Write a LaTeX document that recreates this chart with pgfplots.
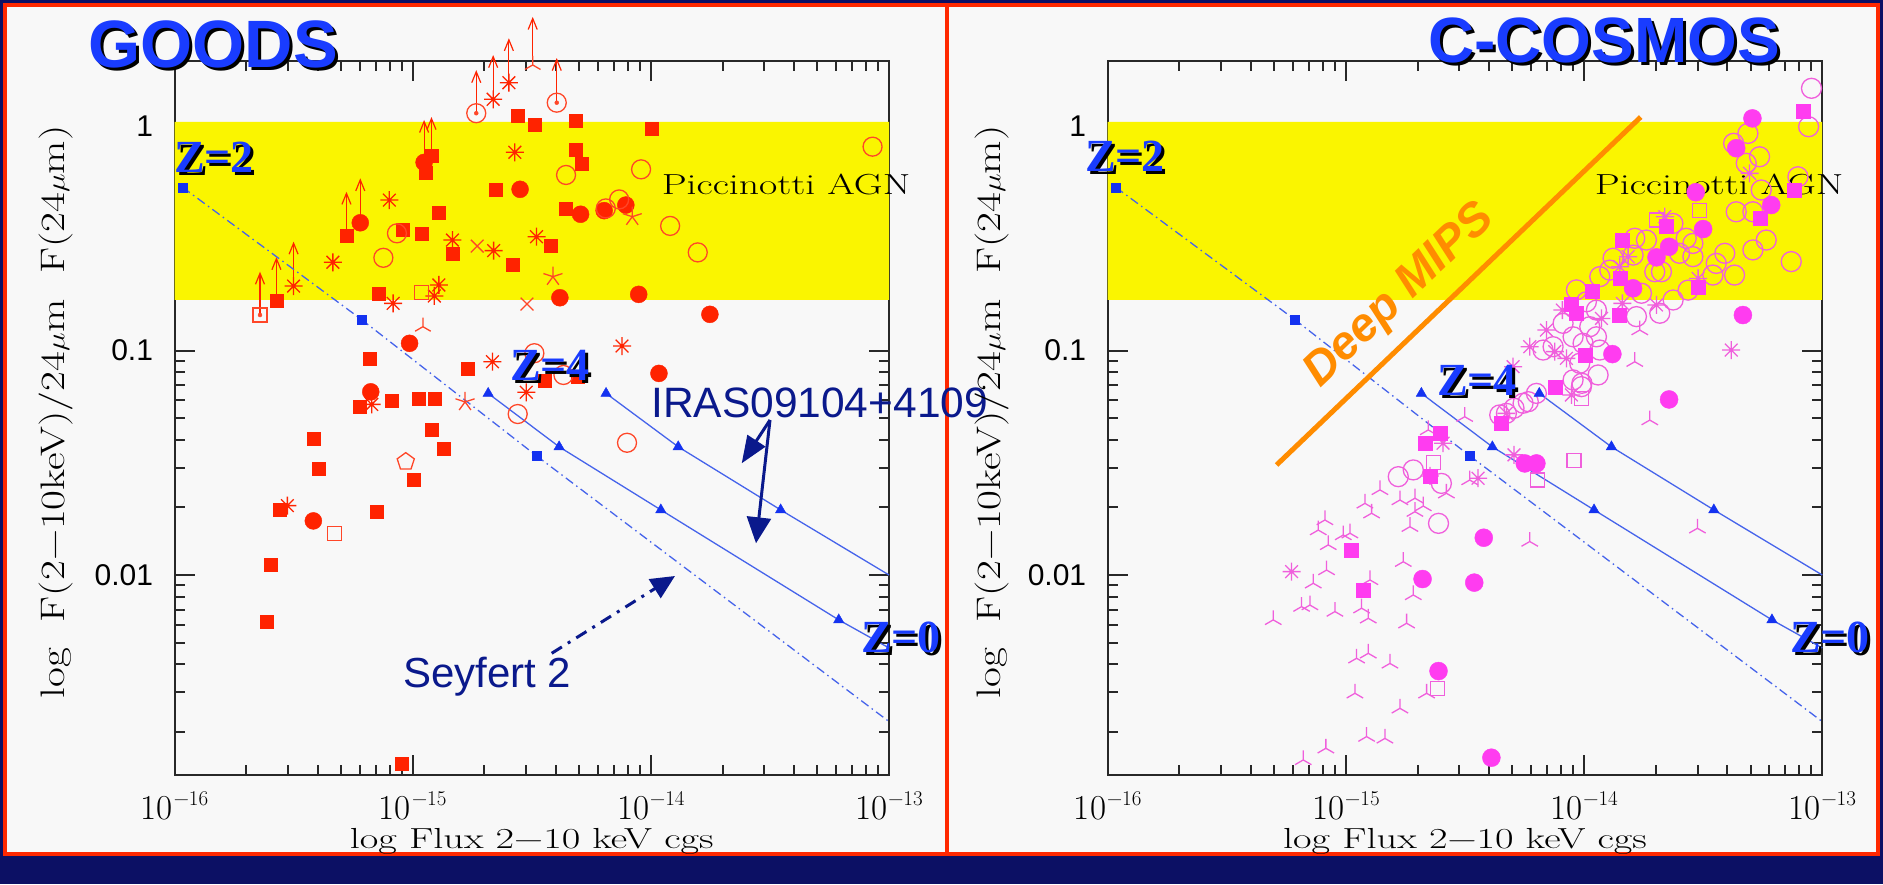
\documentclass[border=0pt]{standalone}
\usepackage{fontspec}
\usepackage{graphicx}
\usepackage{pgfplots}
\pgfplotsset{compat=1.18}
\usetikzlibrary{arrows.meta,plotmarks}
\newfontfamily\arialf{Liberation Sans}
\newfontfamily\timesf{Liberation Serif}

\definecolor{navybg}{RGB}{12,16,100}
\definecolor{framered}{RGB}{255,40,0}
\definecolor{panelbg}{RGB}{248,248,248}
\definecolor{band}{RGB}{250,245,0}
\definecolor{pred}{RGB}{255,35,0}
\definecolor{predl}{RGB}{255,70,40}
\definecolor{pmag}{RGB}{255,60,240}
\definecolor{pmagl}{RGB}{240,95,220}
\definecolor{mblue}{RGB}{70,100,235}
\definecolor{mkblue}{RGB}{20,50,240}
\definecolor{zblue}{RGB}{25,60,255}
\definecolor{navytext}{RGB}{10,25,140}
\definecolor{dmips}{RGB}{255,140,0}
\definecolor{axisgray}{RGB}{40,40,40}

\pgfdeclareplotmark{tri}{%
  \pgfpathmoveto{\pgfqpoint{0pt}{0pt}}\pgfpathlineto{\pgfqpoint{0pt}{\pgfplotmarksize}}%
  \pgfpathmoveto{\pgfqpoint{0pt}{0pt}}\pgfpathlineto{\pgfqpoint{-0.866\pgfplotmarksize}{-0.5\pgfplotmarksize}}%
  \pgfpathmoveto{\pgfqpoint{0pt}{0pt}}\pgfpathlineto{\pgfqpoint{0.866\pgfplotmarksize}{-0.5\pgfplotmarksize}}%
  \pgfusepathqstroke}
\pgfdeclareplotmark{ast8}{%
  \pgfpathmoveto{\pgfqpoint{-\pgfplotmarksize}{0pt}}\pgfpathlineto{\pgfqpoint{\pgfplotmarksize}{0pt}}%
  \pgfpathmoveto{\pgfqpoint{0pt}{-\pgfplotmarksize}}\pgfpathlineto{\pgfqpoint{0pt}{\pgfplotmarksize}}%
  \pgfpathmoveto{\pgfqpoint{-0.707\pgfplotmarksize}{-0.707\pgfplotmarksize}}\pgfpathlineto{\pgfqpoint{0.707\pgfplotmarksize}{0.707\pgfplotmarksize}}%
  \pgfpathmoveto{\pgfqpoint{-0.707\pgfplotmarksize}{0.707\pgfplotmarksize}}\pgfpathlineto{\pgfqpoint{0.707\pgfplotmarksize}{-0.707\pgfplotmarksize}}%
  \pgfusepathqstroke}

\newcommand{\tl}[1]{10\kern1pt\raisebox{14pt}{\fontsize{21}{21}\selectfont −#1}}

\pgfplotsset{
  panel/.style={
    anchor=south west, scale only axis, width=714.5pt, height=714.3pt,
    xmin=-16, xmax=-13, ymin=-2.891, ymax=0.291,
    xtick={-16,-15,-14,-13},
    xticklabels={\tl{16},\tl{15},\tl{14},\tl{13}},
    ytick={-2,-1,0}, yticklabels={0.01,0.1,1},
    minor xtick={-15.699,-15.523,-15.398,-15.301,-15.222,-15.155,-15.097,-15.046,
                 -14.699,-14.523,-14.398,-14.301,-14.222,-14.155,-14.097,-14.046,
                 -13.699,-13.523,-13.398,-13.301,-13.222,-13.155,-13.097,-13.046},
    minor ytick={-2.699,-2.523,-2.398,-2.301,-2.222,-2.155,-2.097,-2.046,
                 -1.699,-1.523,-1.398,-1.301,-1.222,-1.155,-1.097,-1.046,
                 -0.699,-0.523,-0.398,-0.301,-0.222,-0.155,-0.097,-0.046},
    tick align=inside, major tick length=20pt, minor tick length=10pt,
    tick style={line width=2pt, color=axisgray},
    axis line style={line width=2pt, color=axisgray},
    xticklabel style={font=\fontsize{35}{35}\selectfont, yshift=-13pt},
    yticklabel style={font=\arialf\fontsize{30}{30}\selectfont, xshift=-18pt},
    clip=false,
  },
  limarr/.style={pred, line width=1.2pt, -{Straight Barb[length=11pt,width=9pt,line width=1.2pt]}},
}

\newcommand{\bandpic}{%
  \addplot[fill=band, draw=none] coordinates {(-16,-0.775) (-13,-0.775) (-13,0.019) (-16,0.019) (-16,-0.775)};
  \node[anchor=base west, font=\fontsize{29}{29}\selectfont, inner sep=0pt] at (axis cs:-13.955,-0.307) {\scalebox{1.37}[1]{Piccinotti AGN}};
}
\newcommand{\modellines}{%
  \addplot[mblue, line width=1.3pt, dash pattern=on 9pt off 4pt on 1.5pt off 4pt] coordinates {(-15.966,-0.273) (-15.216,-0.861) (-14.479,-1.470) (-13.0,-2.653)};
  \addplot[mblue, line width=1.3pt] coordinates {(-14.683,-1.191) (-14.385,-1.429) (-13.958,-1.710) (-13.211,-2.200) (-13.0,-2.325)};
  \addplot[mblue, line width=1.3pt] coordinates {(-14.188,-1.191) (-13.885,-1.429) (-13.455,-1.710) (-13.0,-2.0)};
  \addplot[only marks, mark=square*, mark size=4.5pt, mkblue] coordinates {(-15.966,-0.273) (-15.216,-0.861) (-14.479,-1.470)};
  \addplot[only marks, mark=triangle*, mark size=6pt, mkblue] coordinates {(-14.683,-1.191) (-14.385,-1.429) (-13.958,-1.710) (-13.211,-2.200) (-14.188,-1.191) (-13.885,-1.429) (-13.455,-1.710)};
}
\newcommand{\uplim}[3]{\addplot[limarr] coordinates {(#1,#2) (#1,#3)};}
\newcommand{\shadowtext}[5]{% x y font color text
  \node[anchor=base, font=#3, text=black] at ({#1+3},{#2-3}) {#5};
  \node[anchor=base, font=#3, text=#4] at (#1,#2) {#5};}

\begin{document}
\begin{tikzpicture}[x=1pt,y=1pt]
% backgrounds and frames
\fill[navybg] (0,0) rectangle (1883,884);
\fill[framered] (3,28) rectangle (1880,881);
\fill[panelbg] (7,32) rectangle (945,877);
\fill[panelbg] (949,32) rectangle (1876,877);

% ---------------- LEFT: GOODS ----------------
\begin{axis}[panel, at={(174.5pt,109pt)}]
\bandpic
% filled squares
\addplot[only marks, mark=square*, mark size=6.5pt, pred] coordinates {
(-15.572,-0.780) (-15.278,-0.490) (-15.144,-0.745) (-15.042,-0.460) (-14.960,-0.481) (-14.890,-0.386)
(-14.921,-0.131) (-14.946,-0.208) (-14.833,-0.571) (-14.652,-0.282) (-14.560,0.045) (-14.488,0.006)
(-14.314,0.024) (-14.314,-0.106) (-14.292,-0.169) (-14.359,-0.368) (-14.420,-0.535) (-14.578,-0.616)
(-13.998,-0.012) (-15.179,-1.037) (-14.771,-1.079) (-14.445,-1.136) (-14.305,-1.117) (-15.086,-1.225)
(-14.976,-1.213) (-14.906,-1.213) (-15.224,-1.250) (-15.414,-1.393) (-15.396,-1.528) (-14.922,-1.354)
(-14.870,-1.437) (-14.995,-1.577) (-15.560,-1.710) (-15.150,-1.718) (-15.596,-1.954) (-15.612,-2.208)
(-15.048,-2.842)};
% filled circles
\addplot[only marks, mark=*, mark size=8.5pt, pred] coordinates {
(-15.220,-0.431) (-14.952,-0.162) (-14.549,-0.282) (-14.295,-0.393) (-14.196,-0.377) (-14.105,-0.352)
(-14.382,-0.765) (-14.051,-0.750) (-13.752,-0.839) (-15.013,-0.968) (-13.966,-1.102) (-15.176,-1.184)
(-15.417,-1.759)};
% open circles
\addplot[only marks, mark=o, mark size=9.5pt, predl, mark options={line width=1.3pt}] coordinates {
(-15.123,-0.587) (-15.066,-0.478) (-14.356,-0.218) (-14.041,-0.193) (-14.133,-0.327) (-14.189,-0.367)
(-13.919,-0.445) (-13.803,-0.563) (-13.069,-0.092) (-14.559,-1.283) (-14.100,-1.411) (-14.489,-1.012)
(-14.367,-1.109) (-14.733,0.057) (-14.395,0.104)};
\addplot[only marks, mark=*, mark size=2pt, predl] coordinates {(-14.733,0.057) (-14.395,0.104) (-15.641,-0.842)};
% asterisks
\addplot[only marks, mark=ast8, mark size=9pt, pred, mark options={line width=1.3pt}] coordinates {
(-15.500,-0.713) (-15.335,-0.607) (-15.098,-0.330) (-14.833,-0.508) (-14.660,-0.555) (-14.480,-0.493)
(-14.571,-0.117) (-14.890,-0.708) (-14.909,-0.757) (-15.082,-0.790) (-14.662,0.119) (-14.596,0.193)
(-14.121,-0.980) (-14.665,-1.050) (-14.523,-1.186) (-15.172,-1.240) (-15.526,-1.691)};
% crosses
\addplot[only marks, mark=x, mark size=9pt, predl, mark options={line width=1.3pt}] coordinates {(-14.729,-0.535) (-14.520,-0.793)};
% five-point stars
\addplot[only marks, mark=star, mark size=10pt, predl, mark options={line width=1.3pt}] coordinates {(-14.411,-0.671) (-14.078,-0.404) (-14.780,-1.229)};
% tri
\addplot[only marks, mark=tri, mark size=9pt, predl, mark options={line width=1.3pt}] coordinates {(-14.957,-0.894) (-14.496,0.272)};
% open squares
\addplot[only marks, mark=square, mark size=7pt, predl, mark options={line width=1.3pt}] coordinates {(-14.963,-0.743) (-15.327,-1.816) (-15.641,-0.842)};
% pentagon
\addplot[only marks, mark=pentagon, mark size=9pt, predl, mark options={line width=1.3pt}] coordinates {(-15.029,-1.495)};
% lower limits
\uplim{-15.641}{-0.842}{-0.649}
\uplim{-15.572}{-0.780}{-0.584}
\uplim{-15.500}{-0.713}{-0.515}
\uplim{-15.278}{-0.490}{-0.293}
\uplim{-15.220}{-0.431}{-0.233}
\uplim{-14.952}{-0.162}{0.027}
\uplim{-14.921}{-0.131}{0.040}
\uplim{-14.733}{0.057}{0.249}
\uplim{-14.662}{0.119}{0.316}
\uplim{-14.596}{0.193}{0.391}
\uplim{-14.496}{0.272}{0.486}
\uplim{-14.395}{0.104}{0.303}
\modellines
\end{axis}

% ---------------- RIGHT: C-COSMOS ----------------
\begin{axis}[panel, at={(1107.7pt,109pt)}]
\bandpic
% open circles
\addplot[only marks, mark=o, mark size=10pt, pmagl, mark options={line width=1.3pt}] coordinates {
(-13.361,-0.382) (-13.291,-0.382) (-13.263,-0.137) (-13.319,-0.166) (-13.256,-0.285) (-13.102,-0.226)
(-13.235,-0.508) (-13.291,-0.552) (-13.130,-0.604) (-13.368,-0.664) (-13.409,-0.567) (-13.459,-0.664)
(-13.445,-0.612) (-13.543,-0.582) (-13.599,-0.567) (-13.543,-0.523) (-13.571,-0.500) (-13.627,-0.434)
(-13.738,-0.508) (-13.787,-0.500) (-13.675,-0.649) (-13.703,-0.649) (-13.626,-0.775) (-13.682,-0.834)
(-13.759,-0.745) (-13.780,-0.849) (-13.892,-0.642) (-13.934,-0.671) (-13.878,-0.589) (-13.794,-0.575)
(-13.990,-0.783) (-14.032,-0.730) (-13.948,-0.820) (-13.976,-0.894) (-14.004,-0.968) (-13.948,-0.939)
(-14.046,-0.939) (-13.934,-0.998) (-14.018,-1.057) (-13.941,-1.109) (-14.011,-1.161) (-14.046,-1.131)
(-14.088,-0.879) (-14.130,-0.983) (-14.172,-0.998) (-13.563,-0.731) (-14.256,-1.235) (-14.326,-1.280)
(-14.200,-1.191) (-13.045,0.168) (-13.057,-0.003) (-13.372,-0.077) (-13.312,-0.033)
(-14.780,-1.562) (-14.717,-1.532) (-14.599,-1.592) (-14.611,-1.770) (-14.234,-1.228) (-14.294,-1.257)
(-14.354,-1.287) (-14.009,-1.146)};
% open squares
\addplot[only marks, mark=square, mark size=7pt, pmagl, mark options={line width=1.3pt}] coordinates {
(-13.514,-0.377) (-13.696,-0.419) (-14.011,-1.213) (-14.042,-1.491) (-14.196,-1.577) (-14.631,-1.500) (-14.615,-2.505)};
% asterisks
\addplot[only marks, mark=ast8, mark size=9pt, pmagl, mark options={line width=1.3pt}] coordinates {
(-13.661,-0.404) (-13.815,-0.582) (-13.850,-0.627) (-13.305,-0.211) (-13.521,-0.679) (-13.696,-0.797)
(-13.839,-0.790) (-14.091,-0.820) (-14.158,-0.909) (-14.228,-0.983) (-14.074,-1.035) (-14.123,-1.005)
(-13.927,-0.857) (-13.382,-0.998) (-14.053,-1.198) (-14.298,-1.072) (-14.326,-1.280) (-14.294,-1.465)
(-14.647,-1.559) (-14.445,-1.569) (-14.592,-1.413) (-15.228,-1.985)};
% tri
\addplot[only marks, mark=tri, mark size=9.5pt, pmagl, mark options={line width=1.3pt}] coordinates {
(-13.766,-0.909) (-13.787,-1.050) (-13.724,-1.310) (-14.501,-1.295) (-13.524,-1.792)
(-14.857,-1.621) (-14.920,-1.681) (-14.892,-1.725) (-14.773,-1.666) (-14.710,-1.658) (-14.675,-1.693)
(-14.710,-1.718) (-14.731,-1.785) (-15.088,-1.755) (-15.116,-1.800) (-15.074,-1.866) (-15.011,-1.822)
(-14.983,-1.814) (-15.081,-1.978) (-15.137,-2.037) (-15.186,-2.141) (-15.151,-2.134) (-15.046,-2.163)
(-14.934,-2.148) (-14.906,-2.193) (-15.305,-2.200) (-14.745,-2.215) (-14.717,-2.089) (-14.759,-1.941)
(-14.899,-2.022) (-14.955,-2.371) (-14.906,-2.349) (-14.815,-2.394) (-14.962,-2.527) (-14.773,-2.594)
(-14.661,-2.527) (-14.913,-2.720) (-14.836,-2.728) (-15.084,-2.772) (-15.179,-2.824) (-14.228,-1.851)
(-14.578,-1.636) (-14.654,-1.354) (-14.480,-1.577)};
% filled squares
\addplot[only marks, mark=square*, mark size=7pt, pmag] coordinates {
(-13.080,0.068) (-13.116,-0.288) (-13.260,-0.411) (-13.657,-0.445) (-13.839,-0.508) (-13.850,-0.679)
(-13.965,-0.738) (-14.053,-0.793) (-14.032,-0.834) (-13.521,-0.716) (-13.853,-0.842) (-13.994,-1.020)
(-14.123,-1.164) (-14.347,-1.324) (-14.668,-1.413) (-14.604,-1.369) (-14.647,-1.559) (-14.976,-1.889)
(-14.927,-2.067)};
% filled circles
\addplot[only marks, mark=*, mark size=9pt, pmag] coordinates {
(-13.531,-0.295) (-13.214,-0.352) (-13.500,-0.459) (-13.643,-0.538) (-13.696,-0.585) (-13.794,-0.723)
(-13.333,-0.842) (-13.881,-1.016) (-13.643,-1.218) (-13.293,0.034) (-13.361,-0.099) (-14.249,-1.503)
(-14.200,-1.503) (-14.421,-1.834) (-14.678,-2.018) (-14.461,-2.034) (-14.611,-2.428) (-14.389,-2.814)};
\modellines
% Deep MIPS limit
\addplot[dmips, line width=5pt] coordinates {(-15.291,-1.510) (-13.762,0.040)};
\end{axis}

% ---------------- annotations ----------------
\shadowtext{213}{816}{\arialf\bfseries\fontsize{67}{67}\selectfont}{zblue}{GOODS}
\shadowtext{1604}{821}{\arialf\bfseries\fontsize{64}{64}\selectfont}{zblue}{C-COSMOS}
\shadowtext{214}{711}{\timesf\bfseries\fontsize{46}{46}\selectfont}{zblue}{Z=2}
\shadowtext{550}{503}{\timesf\bfseries\fontsize{46}{46}\selectfont}{zblue}{Z=4}
\shadowtext{901}{231}{\timesf\bfseries\fontsize{46}{46}\selectfont}{zblue}{Z=0}
\shadowtext{1125}{712}{\timesf\bfseries\fontsize{46}{46}\selectfont}{zblue}{Z=2}
\shadowtext{1477}{488}{\timesf\bfseries\fontsize{46}{46}\selectfont}{zblue}{Z=4}
\shadowtext{1830}{231}{\timesf\bfseries\fontsize{46}{46}\selectfont}{zblue}{Z=0}

\node[anchor=base west, font=\arialf\fontsize{42.5}{42.5}\selectfont, text=navytext, inner sep=0pt] at (651,466) {IRAS09104+4109};
\node[anchor=base west, font=\arialf\fontsize{42}{42}\selectfont, text=navytext, inner sep=0pt] at (403,196) {Seyfert 2};
\draw[navytext, line width=3pt, -{Triangle[length=27pt,width=21pt]}] (770,464) -- (741.7,420.7);
\draw[navytext, line width=3pt, -{Triangle[length=26pt,width=24pt]}] (770,464) -- (756,340.7);
\draw[navytext, line width=3pt, dash pattern=on 12pt off 7pt on 3pt off 7pt, -{Triangle[length=24pt,width=22pt]}] (551.7,230.7) -- (675,308);

\node[rotate=43.7, font=\arialf\bfseries\itshape\fontsize{47}{47}\selectfont, text=dmips] at (1400,588) {Deep MIPS};

% axis labels
\node[anchor=base, font=\fontsize{29}{29}\selectfont] at (531.7,35) {\scalebox{1.39}[1]{log Flux 2−10 keV cgs}};
\node[anchor=base, font=\fontsize{29}{29}\selectfont] at (1465,35) {\scalebox{1.39}[1]{log Flux 2−10 keV cgs}};
\node[rotate=90, font=\fontsize{34}{34}\selectfont] at (56,472) {\scalebox{1.27}[1]{log\ \ F(2−10keV)/24$\mu$m\ \ F(24$\mu$m)}};
\node[rotate=90, font=\fontsize{34}{34}\selectfont] at (992,472) {\scalebox{1.27}[1]{log\ \ F(2−10keV)/24$\mu$m\ \ F(24$\mu$m)}};

\pgfresetboundingbox
\path[use as bounding box] (0,0) rectangle (1883,884);
\end{tikzpicture}
\end{document}
